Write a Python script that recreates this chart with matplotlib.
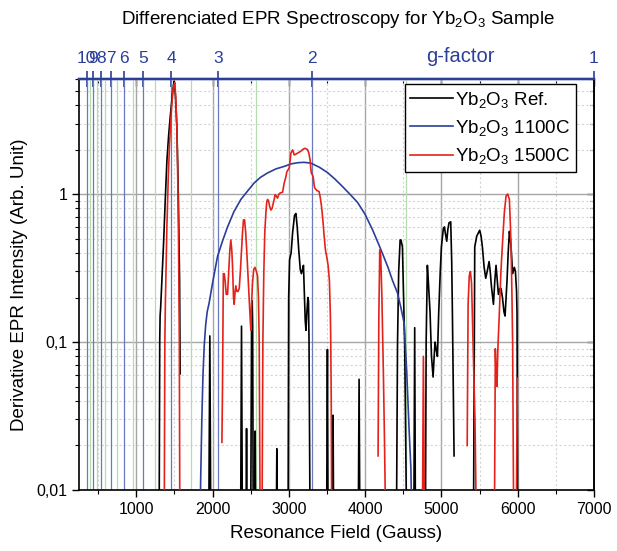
import numpy as np
import matplotlib
matplotlib.use('Agg')
import matplotlib.pyplot as plt
from matplotlib.ticker import FixedLocator, LogLocator, MultipleLocator, NullFormatter, FuncFormatter

plt.rcParams['font.family'] = ['Liberation Sans', 'DejaVu Sans']
plt.rcParams['mathtext.fontset'] = 'custom'
plt.rcParams['mathtext.rm'] = 'Liberation Sans'
plt.rcParams['mathtext.it'] = 'Liberation Sans:italic'

nan = np.nan

# Yb2O3 reference (black); NaN = gap, 0.005 = below the axis
ref_field = [1300, 1308, 1313, 1320, 1330, 1358, 1380, 1402, 1425, 1445, 1470, 1489, 1498, 1510, 1522, 1533, 1545, 1555, 1568, 1576, nan,
             1950, 1965, 1978, nan,
             2368, 2380, 2392, nan,
             2438, 2446, 2454, nan,
             2500, 2512, 2520, 2526, 2534, nan,
             2552, 2559, 2566, nan,
             2835, 2843, 2851, nan,
             2990, 2998, 3010, 3030, 3050, 3075, 3093, 3110, 3130, 3150, 3165, 3180, 3192, 3205, 3215, 3225, 3237, 3250, 3258, 3265, 3279, nan,
             3495, 3506, 3515, nan,
             3572, 3580, 3588, nan,
             3910, 3921, 3932, nan,
             4410, 4425, 4440, 4459, 4470, 4489, 4505, 4519, 4545, nan,
             4638, 4650, 4660, nan,
             4790, 4800, 4816, 4830, 4851, 4870, 4891, 4905, 4917, 4930, 4948, 4965, 4985, 5000, 5026, 5040, 5050, 5070, 5085, 5100, 5122, 5135, 5144, 5155, 5166, nan,
             5420, 5437, 5463, 5502, 5520, 5537, 5560, 5581, 5600, 5625, 5640, 5655, 5682, 5700, 5716, 5735, 5747, 5765, 5781, 5800, 5820, 5834, 5848, 5860, 5875, 5891, 5903, 5913, 5934, 5956, 5970, 5985, 5991, 6000]
ref_int = [0.005, 0.1, 0.15, 0.17, 0.22, 0.46, 0.9, 1.68, 2.5, 3.3, 4.5, 5.5, 5.8, 5.0, 3.8, 2.8, 1.5, 0.77, 0.27, 0.061, nan,
           0.005, 0.11, 0.005, nan,
           0.005, 0.128, 0.005, nan,
           0.005, 0.026, 0.005, nan,
           0.005, 0.14, 0.19, 0.13, 0.005, nan,
           0.005, 0.025, 0.005, nan,
           0.005, 0.019, 0.005, nan,
           0.005, 0.2, 0.36, 0.4, 0.55, 0.72, 0.74, 0.6, 0.42, 0.31, 0.29, 0.31, 0.33, 0.2, 0.14, 0.12, 0.16, 0.2, 0.19, 0.1, 0.005, nan,
           0.005, 0.089, 0.005, nan,
           0.005, 0.032, 0.005, nan,
           0.005, 0.056, 0.005, nan,
           0.005, 0.1, 0.3, 0.49, 0.49, 0.44, 0.2, 0.094, 0.005, nan,
           0.005, 0.125, 0.005, nan,
           0.005, 0.1, 0.33, 0.25, 0.16, 0.08, 0.058, 0.08, 0.1, 0.09, 0.08, 0.16, 0.3, 0.44, 0.59, 0.6, 0.55, 0.48, 0.58, 0.64, 0.65, 0.35, 0.16, 0.05, 0.017, nan,
           0.005, 0.44, 0.52, 0.57, 0.52, 0.44, 0.32, 0.27, 0.3, 0.35, 0.3, 0.24, 0.18, 0.26, 0.33, 0.25, 0.21, 0.23, 0.23, 0.2, 0.16, 0.15, 0.2, 0.26, 0.4, 0.56, 0.5, 0.44, 0.29, 0.32, 0.3, 0.22, 0.16, 0.005]

# Yb2O3 1100C (blue)
c1100_field = [1835, 1845, 1860, 1875, 1891, 1910, 1930, 1956, 2000, 2066, 2130, 2197, 2280, 2371, 2460, 2546, 2630, 2721, 2830, 2940,
               3030, 3114, 3200, 3289, 3400, 3506, 3600, 3700, 3800, 3900, 4000, 4100, 4200, 4300, 4360, 4424, 4470, 4511, 4546, 4576, 4600, 4615]
c1100_int = [0.005, 0.012, 0.03, 0.06, 0.094, 0.13, 0.16, 0.184, 0.25, 0.38, 0.48, 0.6, 0.76, 0.92, 1.05, 1.19, 1.3, 1.39, 1.48, 1.54,
             1.6, 1.63, 1.64, 1.62, 1.52, 1.4, 1.27, 1.13, 1.0, 0.88, 0.73, 0.57, 0.43, 0.32, 0.26, 0.215, 0.17, 0.135, 0.062, 0.026, 0.014, 0.005]

# Yb2O3 1500C (red)
c1500_field = [1367, 1375, 1382, 1402, 1420, 1437, 1460, 1480, 1495, 1506, 1518, 1533, 1545, 1555, 1565, 1572, nan,
               2123, 2131, 2142, 2153, 2165, 2180, 2197, 2215, 2227, 2240, 2252, 2262, 2275, 2284, 2296, 2306, 2318, 2335, 2350, 2365,
               2380, 2393, 2406, 2420, 2435, 2450, 2465, 2481, 2495, 2503, 2512, 2524, 2540, 2556, 2575, 2590, 2602, 2612, 2625, nan,
               2648, 2660, 2672, 2685, 2699, 2710, 2721, 2735, 2750, 2765, 2780, 2795, 2808, 2820, 2835, 2852, 2870, 2890, 2918, 2940,
               2960, 2975, 3005, 3018, 3027, 3049, 3060, 3071, 3090, 3114, 3135, 3158, 3180, 3209, 3230, 3245, 3262, 3279, 3290, 3297,
               3310, 3320, 3332, 3340, 3365, 3397, 3412, 3428, 3445, 3463, 3480, 3500, 3515, 3532, 3545, 3550, 3556, 3563, nan,
               4170, 4180, 4192, 4205, 4220, 4240, 4255, 4271, nan,
               4750, 4764, 4778, nan,
               5338, 5350, 5365, 5380, 5395, 5415, 5440, 5460, nan,
               5694, 5707, 5718, 5728, 5740, 5760, 5780, 5803, 5825, 5847, 5869, 5891, 5905, 5913, 5925, 5934, 5948, nan,
               5980, 5995, nan]
c1500_int = [0.005, 0.1, 0.18, 0.6, 1.3, 2.2, 3.6, 5.0, 5.5, 5.66, 4.5, 2.8, 1.2, 0.46, 0.1, 0.005, nan,
             0.021, 0.05, 0.29, 0.29, 0.26, 0.21, 0.21, 0.32, 0.42, 0.49, 0.42, 0.33, 0.2, 0.18, 0.22, 0.24, 0.22, 0.22, 0.23, 0.3,
             0.42, 0.55, 0.67, 0.67, 0.55, 0.4, 0.28, 0.19, 0.14, 0.12, 0.18, 0.25, 0.31, 0.32, 0.3, 0.28, 0.2, 0.1, 0.005, nan,
             0.005, 0.1, 0.29, 0.55, 0.74, 0.88, 0.92, 0.9, 0.82, 0.78, 0.8, 0.86, 0.92, 0.99, 0.97, 0.94, 1.0, 1.02, 1.03, 1.19,
             1.3, 1.42, 1.5, 1.7, 1.89, 1.99, 1.92, 1.84, 1.86, 1.89, 1.92, 1.95, 2.0, 2.04, 2.02, 2.0, 1.9, 1.7, 1.45, 1.38,
             1.35, 1.3, 1.15, 1.1, 1.06, 1.04, 0.95, 0.83, 0.68, 0.52, 0.42, 0.37, 0.33, 0.26, 0.15, 0.1, 0.04, 0.005, nan,
             0.017, 0.15, 0.42, 0.38, 0.2, 0.06, 0.02, 0.005, nan,
             0.005, 0.08, 0.005, nan,
             0.02, 0.18, 0.28, 0.3, 0.25, 0.1, 0.03, 0.005, nan,
             0.005, 0.09, 0.055, 0.05, 0.09, 0.16, 0.3, 0.49, 0.75, 0.97, 1.0, 0.92, 0.6, 0.44, 0.2, 0.094, 0.005, nan,
             0.005, 0.057, nan]

g_major = [1, 2, 3, 4, 5, 6, 7, 8, 9, 10]
g_half = [1.5, 2.5, 3.5, 4.5, 5.5, 6.5, 7.5, 8.5, 9.5]


def g_to_field(g):
    return 7390.0 / np.asarray(g, dtype=float) - 390.0


def field_to_g(b):
    return 7390.0 / (np.asarray(b, dtype=float) + 390.0)


gblue = '#2b3f99'

fig = plt.figure(figsize=(6.17, 5.51), dpi=100)
ax = fig.add_axes([79 / 617, 1 - 490 / 551, 515 / 617, 411 / 551])

ax.set_yscale('log')
ax.set_xlim(250, 7000)
ax.set_ylim(0.01, 6)

for g in g_half:
    ax.axvline(g_to_field(g), color='#b4dcae', lw=0.9, zorder=1)
for g in g_major[1:]:
    ax.axvline(g_to_field(g), color='#6a78bf', lw=0.9, zorder=1)

ax.xaxis.set_major_locator(MultipleLocator(1000))
ax.xaxis.set_minor_locator(MultipleLocator(500))
ax.yaxis.set_major_locator(LogLocator(base=10))
ax.yaxis.set_minor_locator(LogLocator(base=10, subs=np.arange(2, 10)))
ax.yaxis.set_minor_formatter(NullFormatter())
ax.yaxis.set_major_formatter(FuncFormatter(lambda v, p: {1: '1', 0.1: '0,1', 0.01: '0,01'}.get(round(v, 4), '')))

ax.grid(which='major', color='#a6a6a6', lw=1.0, ls='-', zorder=0)
ax.grid(which='minor', color='#d4d4d4', lw=0.8, ls=(0, (2, 2)), zorder=0)
ax.set_axisbelow(True)

ax.plot(ref_field, ref_int, color='black', lw=1.2, label='Yb$_2$O$_3$ Ref.', zorder=3)
ax.plot(c1100_field, c1100_int, color=gblue, lw=1.2, label='Yb$_2$O$_3$ 1100C', zorder=3)
ax.plot(c1500_field, c1500_int, color='#e3231b', lw=1.2, label='Yb$_2$O$_3$ 1500C', zorder=3)

ax.tick_params(axis='both', which='major', direction='out', length=5, width=1, labelsize=11.5)
ax.tick_params(axis='both', which='minor', direction='out', length=3, width=0.8)
ax.tick_params(top=False, right=False)
for s in ['left', 'bottom', 'right']:
    ax.spines[s].set_linewidth(1.2)
ax.spines['top'].set_color(gblue)
ax.spines['top'].set_linewidth(1.6)

# mirrored ticks on right and top
sy = ax.secondary_yaxis('right')
sy.yaxis.set_major_locator(LogLocator(base=10))
sy.yaxis.set_minor_locator(LogLocator(base=10, subs=np.arange(2, 10)))
sy.yaxis.set_major_formatter(NullFormatter())
sy.yaxis.set_minor_formatter(NullFormatter())
sy.tick_params(which='major', direction='in', length=5, width=1)
sy.tick_params(which='minor', direction='in', length=3, width=0.8)
sy.spines['right'].set_linewidth(1.2)

sx = ax.secondary_xaxis('top')
sx.xaxis.set_major_locator(MultipleLocator(1000))
sx.xaxis.set_minor_locator(MultipleLocator(500))
sx.xaxis.set_major_formatter(NullFormatter())
sx.tick_params(which='major', direction='in', length=5, width=1)
sx.tick_params(which='minor', direction='in', length=3, width=0.8)
sx.spines['top'].set_color(gblue)
sx.spines['top'].set_linewidth(1.6)

gx = ax.secondary_xaxis('top', functions=(field_to_g, g_to_field))
gx.xaxis.set_major_locator(FixedLocator(g_major))
gx.xaxis.set_minor_locator(FixedLocator(g_half))
gx.xaxis.set_major_formatter(FuncFormatter(lambda v, p: '%d' % round(v)))
gx.xaxis.set_minor_formatter(NullFormatter())
gx.tick_params(which='major', direction='inout', length=11, width=1.2, colors=gblue, labelsize=12.5, pad=4)
gx.tick_params(which='minor', direction='in', length=0)
gx.spines['top'].set_color(gblue)
gx.spines['top'].set_linewidth(1.6)
ax.text(0.74, 1.054, 'g-factor', transform=ax.transAxes, ha='center', va='center', color=gblue, fontsize=14.5)

ax.set_xlabel('Resonance Field (Gauss)', fontsize=13.5, labelpad=6)
ax.set_ylabel('Derivative EPR Intensity (Arb. Unit)', fontsize=13.5, labelpad=6)
fig.text(338 / 617, 1 - 20 / 551, 'Differenciated EPR Spectroscopy for Yb$_2$O$_3$ Sample',
         ha='center', va='center', fontsize=13.5)

leg = ax.legend(loc='upper right', bbox_to_anchor=(0.965, 0.988), borderaxespad=0, fontsize=13.5,
                handlelength=2.3, handletextpad=0.1, labelspacing=0.45, borderpad=0.3,
                fancybox=False, framealpha=1, edgecolor='black')
leg.get_frame().set_linewidth(1.0)

fig.savefig('out.png', dpi=100)
